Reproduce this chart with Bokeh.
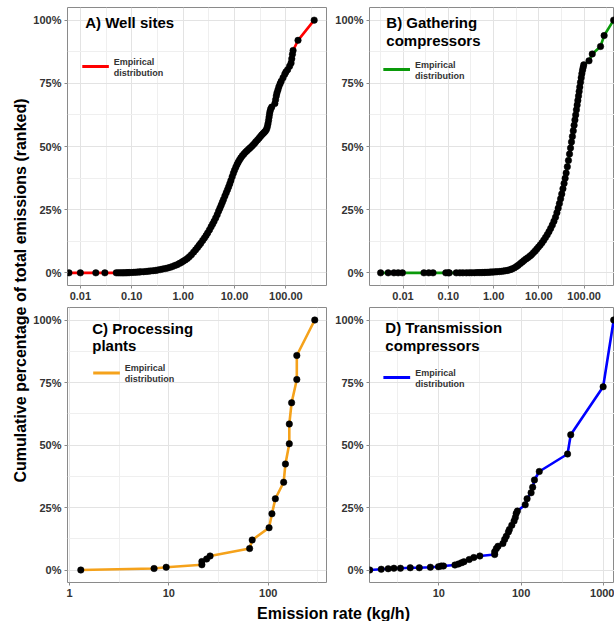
import math
from bokeh.plotting import figure
from bokeh.layouts import row, column
from bokeh.models import FixedTicker, PrintfTickFormatter, Label, Range1d
from bokeh.embed import file_html
from bokeh.resources import INLINE

FONT = "Liberation Sans"

# ---------------- data ----------------
# A) Well sites: emission rate (kg/h) and cumulative percentage
wells_rate = [0.006, 0.010, 0.020, 0.030, 0.050, 0.055, 0.060, 0.065, 0.070, 0.075,
              0.080, 0.085, 0.090, 0.100, 0.110, 0.120, 0.130, 0.140, 0.150, 0.170,
              0.190, 0.210, 0.230, 0.260, 0.290, 0.320, 0.360, 0.400, 0.450, 0.500,
              0.560, 0.620, 0.690, 0.760, 0.840, 0.920, 1.00, 1.10, 1.21, 1.32,
              1.45, 1.60, 1.75, 1.90, 2.05, 2.20, 2.40, 2.60, 2.80, 3.00,
              3.25, 3.50, 3.75, 4.00, 4.30, 4.60, 4.90, 5.20, 5.50, 5.80,
              6.10, 6.50, 6.90, 7.30, 7.70, 8.10, 8.50, 9.00, 9.50, 10.0,
              10.6, 11.2, 11.8, 12.5, 13.3, 14.2, 15.2, 16.3, 17.5, 18.8,
              20.0, 21.5, 23.0, 24.5, 26.0, 28.0, 30.0, 32.0, 34.0, 36.0,
              38.0, 40.0, 42.0, 43.5, 44.8, 46.0, 47.0, 48.0, 49.0, 50.5,
              53.0, 61.0, 63.0, 65.0, 67.0, 70.0, 73.0, 77.0, 81.0, 88.0,
              95.0, 100.0, 108.0, 118.0, 126.0, 130.0, 134.0, 138.0, 172.0, 355.0]
wells_pct = [0.0, 0.0, 0.0, 0.0, 0.0, 0.0, 0.0, 0.0, 0.0, 0.05,
             0.05, 0.1, 0.1, 0.15, 0.2, 0.25, 0.3, 0.35, 0.4, 0.45,
             0.55, 0.65, 0.75, 0.85, 0.95, 1.1, 1.3, 1.5, 1.7, 1.9,
             2.2, 2.5, 2.9, 3.2, 3.7, 4.1, 4.6, 5.1, 5.7, 6.4,
             7.2, 8.2, 9.1, 10.0, 10.9, 11.7, 12.8, 13.8, 14.8, 15.8,
             17.0, 18.2, 19.3, 20.4, 21.7, 23.0, 24.4, 25.6, 26.8, 27.9,
             29.0, 30.4, 31.7, 32.9, 34.1, 35.3, 36.5, 38.0, 39.4, 40.6,
             41.8, 42.9, 43.8, 44.7, 45.5, 46.3, 47.0, 47.7, 48.3, 48.9,
             49.4, 50.0, 50.6, 51.2, 51.9, 52.6, 53.3, 54.0, 54.6, 55.1,
             55.6, 56.1, 56.8, 57.8, 59.0, 60.3, 61.6, 62.8, 63.8, 64.8,
             65.6, 67.0, 68.5, 70.0, 71.2, 72.4, 73.6, 74.8, 75.8, 77.2,
             78.6, 79.5, 80.4, 81.8, 83.0, 84.7, 86.5, 88.0, 92.0, 100.0]

# B) Gathering compressors
gath_rate = [0.0032, 0.0047, 0.0063, 0.0078, 0.0097, 0.029, 0.037, 0.046, 0.088, 0.100,
             0.105, 0.150, 0.180, 0.210, 0.250, 0.290, 0.330, 0.380, 0.430, 0.480,
             0.530, 0.580, 0.630, 0.680, 0.740, 0.800, 0.860, 0.930, 1.00, 1.10,
             1.20, 1.35, 1.50, 1.65, 1.80, 2.00, 2.20, 2.40, 2.60, 2.90,
             3.20, 3.50, 3.90, 4.30, 4.70, 5.20, 5.70, 6.30, 6.90, 7.60,
             8.30, 9.00, 9.80, 10.7, 11.7, 12.8, 14.0, 15.3, 16.7, 18.2,
             19.8, 21.5, 23.3, 25.0, 26.7, 28.4, 30.2, 32.0, 34.0, 36.0,
             38.0, 40.0, 42.5, 45.0, 47.5, 50.0, 52.5, 55.0, 57.5, 60.0,
             62.5, 65.0, 67.5, 70.0, 72.5, 75.0, 77.5, 80.0, 83.0, 86.0,
             89.0, 92.0, 95.0, 98.0, 128.0, 151.0, 230.0, 276.0, 448.0]
gath_pct = [0.0, 0.0, 0.0, 0.0, 0.0, 0.0, 0.0, 0.0, 0.0, 0.0,
            0.0, 0.0, 0.0, 0.0, 0.0, 0.05, 0.05, 0.05, 0.1, 0.1,
            0.1, 0.15, 0.15, 0.2, 0.2, 0.25, 0.3, 0.3, 0.35, 0.4,
            0.45, 0.5, 0.6, 0.7, 0.8, 0.95, 1.15, 1.35, 1.6, 2.0,
            2.5, 3.0, 3.7, 4.3, 4.9, 5.5, 6.0, 6.6, 7.2, 8.0,
            8.7, 9.4, 10.2, 11.0, 11.9, 12.9, 14.0, 15.1, 16.3, 17.6,
            18.9, 20.4, 22.0, 23.8, 25.6, 27.4, 29.3, 31.2, 33.3, 35.4,
            37.4, 39.5, 42.0, 44.5, 47.0, 49.4, 51.8, 54.0, 56.2, 58.4,
            60.5, 62.5, 64.5, 66.4, 68.2, 70.0, 71.8, 73.5, 75.4, 77.2,
            78.8, 80.2, 81.3, 82.3, 83.9, 86.6, 89.6, 93.9, 100.0]

# C) Processing plants
proc_rate = [1.30, 7.1, 9.4, 21.5, 21.5, 24.0, 26.0, 65.0, 69.0, 102.0,
             109.0, 118.0, 143.0, 149.0, 163.0, 163.0, 172.0, 194.0, 194.0, 294.0]
proc_pct = [0.0, 0.6, 1.1, 2.1, 3.4, 4.4, 5.6, 8.6, 12.0, 16.9,
            22.5, 28.5, 35.1, 42.4, 50.5, 58.4, 66.9, 76.2, 85.8, 100.0]

# D) Transmission compressors
trans_rate = [1.45, 2.0, 2.43, 2.85, 3.42, 4.5, 5.8, 7.9, 9.9, 10.7,
              11.4, 15.7, 17.3, 18.9, 20.2, 23.4, 26.6, 31.5, 47.7, 47.7,
              50.0, 52.4, 60.0, 63.0, 66.0, 70.0, 72.0, 77.0, 82.0, 85.0,
              87.0, 90.0, 112.0, 118.0, 132.0, 138.0, 145.0, 166.0, 366.0, 400.0,
              990.0, 1330.0]
trans_pct = [0.0, 0.3, 0.5, 0.7, 0.7, 0.9, 0.9, 1.1, 1.3, 1.6,
             1.6, 2.0, 2.4, 2.9, 3.3, 4.2, 5.0, 5.6, 6.2, 7.3,
             8.6, 9.5, 10.6, 12.2, 13.5, 15.2, 16.2, 17.9, 19.6, 21.0,
             22.6, 23.6, 26.1, 28.5, 30.9, 33.1, 36.0, 39.4, 46.4, 54.1,
             73.3, 100.0]

pct_ticks = [0, 25, 50, 75, 100]
ticks_ab = [0.01, 0.1, 1, 10, 100]
ticks_c = [1, 10, 100]
ticks_d = [10, 100, 1000]

YR = (-5, 105)


def half_decades(lo, hi):
    out = []
    for k in range(-4, 5):
        v = 10 ** (k + 0.5)
        if lo <= v <= hi:
            out.append(v)
    return out


def panel(xs, ys, color, xr, width, height, bl, br, bt, bb, major, fmt,
          title_lines, title_off, leg_off):
    p = figure(width=width, height=height, x_axis_type="log",
               x_range=Range1d(*xr), y_range=Range1d(*YR),
               output_backend="svg", toolbar_location=None,
               min_border_left=bl, min_border_right=br,
               min_border_top=bt, min_border_bottom=bb)
    p.background_fill_color = "white"
    p.border_fill_color = "white"
    p.outline_line_color = "#8a8a8a"
    p.outline_line_width = 1

    p.xaxis.ticker = FixedTicker(ticks=major, minor_ticks=half_decades(*xr))
    p.yaxis.ticker = FixedTicker(ticks=pct_ticks, minor_ticks=[12.5, 37.5, 62.5, 87.5])
    p.xaxis.formatter = PrintfTickFormatter(format=fmt)
    p.yaxis.formatter = PrintfTickFormatter(format="%d%%")
    for ax in (p.xaxis, p.yaxis):
        ax.axis_line_color = None
        ax.major_tick_line_color = "#8a8a8a"
        ax.major_tick_in = 0
        ax.major_tick_out = 3
        ax.minor_tick_line_color = None
        ax.major_label_text_font = FONT
        ax.major_label_text_font_style = "bold"
        ax.major_label_text_font_size = "11px"
        ax.major_label_text_color = "#333333"
        ax.major_label_standoff = 2
    for g in (p.xgrid, p.ygrid):
        g.grid_line_color = "#e3e3e3"
        g.grid_line_width = 1
        g.minor_grid_line_color = "#efefef"
        g.minor_grid_line_width = 1

    p.line(xs, ys, line_color=color, line_width=2.6)
    p.scatter(xs, ys, marker="circle", size=6.5, fill_color="black",
              line_color="black", line_width=0.5)

    # helpers: frame-pixel offsets -> data coordinates (for annotations only)
    fw = width - bl - br
    fh = height - bt - bb
    lx0, lx1 = math.log10(xr[0]), math.log10(xr[1])

    def dx(off):
        return 10 ** (lx0 + off / fw * (lx1 - lx0))

    def dy(off_top):
        return YR[1] - off_top / fh * (YR[1] - YR[0])

    tx, ty = title_off
    for i, t in enumerate(title_lines):
        p.add_layout(Label(x=dx(tx), y=dy(ty + 17.5 * i), text=t,
                           text_font=FONT, text_font_style="bold",
                           text_font_size="15px", text_color="black",
                           text_align="left", text_baseline="middle"))
    lx, lyy = leg_off
    p.segment(x0=[dx(lx)], y0=[dy(lyy)], x1=[dx(lx + 27)], y1=[dy(lyy)],
              line_color=color, line_width=3)
    for i, t in enumerate(["Empirical", "distribution"]):
        p.add_layout(Label(x=dx(lx + 32), y=dy(lyy - 5 + 11 * i), text=t,
                           text_font=FONT, text_font_style="bold",
                           text_font_size="9px", text_color="#333333",
                           text_align="left", text_baseline="middle"))
    return p


pA = panel(wells_rate, wells_pct, "#ff0000", (10 ** -2.25, 10 ** 2.79),
           302, 302, 33, 6, 7, 17, ticks_ab, "%.2f",
           ["A) Well sites"], (18, 15), (15, 59))
pB = panel(gath_rate, gath_pct, "#0a9a0a", (10 ** -2.74, 10 ** 2.67),
           282, 302, 34, 0, 7, 17, ticks_ab, "%.2f",
           ["B) Gathering", "compressors"], (17, 15), (14, 62))
pC = panel(proc_rate, proc_pct, "#f5a21b", (0.955, 386),
           302, 298, 34, 6, 3, 18, ticks_c, "%d",
           ["C) Processing", "plants"], (25, 21), (26, 66))
pD = panel(trans_rate, trans_pct, "#0000ff", (1.44, 1360),
           282, 298, 35, 0, 5, 18, ticks_d, "%d",
           ["D) Transmission", "compressors"], (16, 20), (14, 70))


def blank(w, h):
    f = figure(width=w, height=h, x_range=Range1d(0, w), y_range=Range1d(0, h),
               output_backend="svg", toolbar_location=None, min_border=0,
               x_axis_location=None, y_axis_location=None)
    f.outline_line_color = None
    f.grid.visible = False
    f.background_fill_color = "white"
    f.border_fill_color = "white"
    return f


ylab = blank(30, 621)
ylab.add_layout(Label(x=20, y=621 - 290, text="Cumulative percentage of total emissions (ranked)",
                      angle=math.pi / 2, text_align="center", text_baseline="middle",
                      text_font=FONT, text_font_style="bold", text_font_size="16px",
                      text_color="black"))
xlab = blank(584, 21)
xlab.add_layout(Label(x=333 - 30, y=21 - 13, text="Emission rate (kg/h)",
                      text_align="center", text_baseline="middle",
                      text_font=FONT, text_font_style="bold", text_font_size="16px",
                      text_color="black"))

layout = row(ylab, column(row(pA, pB), row(pC, pD), xlab))

open("out.html", "w").write(file_html(layout, INLINE))
